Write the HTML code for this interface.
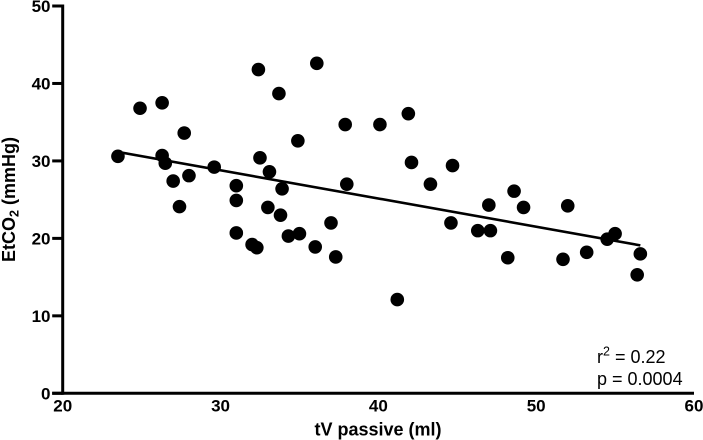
<!DOCTYPE html>
<html lang="en">
<head>
<meta charset="utf-8">
<title>EtCO2 vs tV passive</title>
<style>
html,body{margin:0;padding:0;background:#fff;width:703px;height:440px;overflow:hidden}
svg{display:block;font-family:"Liberation Sans",sans-serif}
</style>
</head>
<body>
<svg id="chart" width="703" height="440" viewBox="0 0 703 440" xmlns="http://www.w3.org/2000/svg">
  <text transform="translate(15,199.5) rotate(-90)" text-anchor="middle" font-size="18" font-weight="bold" fill="#000">EtCO<tspan font-size="12.5" dy="3.5">2</tspan><tspan dy="-3.5"> (mmHg)</tspan></text>
  <text x="378" y="435.5" text-anchor="middle" font-size="18" font-weight="bold" fill="#000">tV passive (ml)</text>
  <text x="597" y="363" font-size="18" fill="#000">r<tspan font-size="12.5" dy="-7.5">2</tspan><tspan dy="7.5"> = 0.22</tspan></text>
  <text x="597" y="385" font-size="18" fill="#000">p = 0.0004</text>
</svg>
<script>
var xTicks = [20, 30, 40, 50, 60];
var yTicks = [0, 10, 20, 30, 40, 50];
var tvPassive = [23.5, 24.9, 26.3, 26.3, 26.5, 27.0, 27.4, 27.7, 28.0, 29.6, 31.0, 31.0, 31.0, 32.0, 32.3, 32.4, 32.5, 33.0, 33.1, 33.7, 33.8, 33.9, 34.3, 34.9, 35.0, 36.0, 36.1, 37.0, 37.3, 37.9, 38.0, 40.1, 41.2, 41.9, 42.1, 43.3, 44.6, 44.7, 46.3, 47.0, 47.1, 48.2, 48.6, 49.2, 51.7, 52.0, 53.2, 54.5, 55.0, 56.4, 56.6];
var etco2 = [30.6, 36.8, 37.5, 30.7, 29.7, 27.4, 24.1, 33.6, 28.1, 29.2, 26.8, 24.9, 20.7, 19.2, 18.8, 41.8, 30.4, 24.0, 28.6, 38.7, 23.0, 26.4, 20.3, 32.6, 20.6, 18.9, 42.6, 22.0, 17.6, 34.7, 27.0, 34.7, 12.1, 36.1, 29.8, 27.0, 22.0, 29.4, 21.0, 24.3, 21.0, 17.5, 26.1, 24.0, 17.3, 24.2, 18.2, 19.9, 20.6, 15.3, 18.0];
var fitX = [23.8, 56.6];
var fitY = [31.05, 19.1];

var svg = document.getElementById('chart');
var NS = 'http://www.w3.org/2000/svg';
function sx(v) { return 62.7 + (v - 20) * (694 - 62.7) / 40; }
function sy(v) { return 393.3 - v * (393.3 - 6) / 50; }
function make(tag, attrs) {
  var el = document.createElementNS(NS, tag);
  for (var k in attrs) el.setAttribute(k, attrs[k]);
  svg.appendChild(el);
  return el;
}

var yAxis = make('line', {x1: sx(20), x2: sx(20), y1: sy(50) - 1.5, y2: sy(0) + 1.5, stroke: '#000', 'stroke-width': 3});



var xAxis = make('line', {x1: sx(20) - 10.5, x2: sx(60), y1: sy(0), y2: sy(0), stroke: '#000', 'stroke-width': 3});



yTicks.forEach(function (t) {
  var tick = make('line', {x1: sx(20) - 10.5, x2: sx(20), y1: sy(t), y2: sy(t), stroke: '#000', 'stroke-width': 3});
  
  
  var label = make('text', {x: 50.5, y: sy(t) + 6, 'text-anchor': 'end', 'font-size': 17, 'font-weight': 'bold', fill: '#000'});
  
  
  label.textContent = t;
});

xTicks.forEach(function (t) {
  var label = make('text', {x: sx(t), y: 411.5, 'text-anchor': 'middle', 'font-size': 17, 'font-weight': 'bold', fill: '#000'});
  
  
  label.textContent = t;
});

var fit = make('line', {x1: sx(fitX[0]), y1: sy(fitY[0]), x2: sx(fitX[1]), y2: sy(fitY[1]), stroke: '#000', 'stroke-width': 2.6});



tvPassive.forEach(function (v, i) {
  var pt = make('circle', {cx: sx(v), cy: sy(etco2[i]), r: 6.8, fill: '#000'});
  
  
});
</script>
</body>
</html>
